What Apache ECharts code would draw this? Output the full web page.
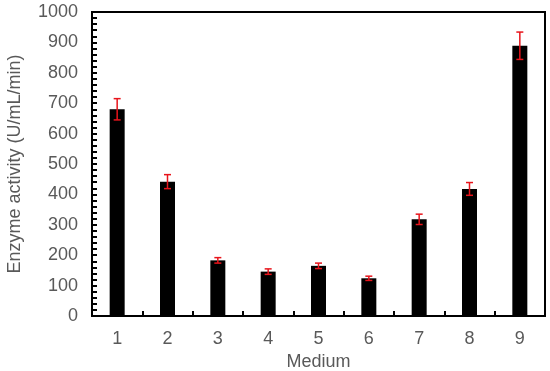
<!DOCTYPE html>
<html>
<head>
<meta charset="utf-8">
<script src="https://cdn.jsdelivr.net/npm/echarts@6/dist/echarts.min.js"></script>
<style>
  html, body { margin: 0; padding: 0; background: #fff; }
  #main { width: 550px; height: 371px; }
</style>
</head>
<body>
<div id="main"></div>
<script>
  // medium numbers and measured activity (U/mL/min)
  const media = ["1", "2", "3", "4", "5", "6", "7", "8", "9"];
  const activity = [680, 442, 183, 146, 165, 124, 318, 418, 889];
  const errors = [35, 23, 9, 9, 9, 7, 17, 21, 45];

  const font = "Liberation Sans, Arial, sans-serif";
  const grey = "#595959";

  let chart = echarts.init(document.getElementById("main"));

  let errData = media.map(function (m, i) {
    return [i, activity[i] - errors[i], activity[i] + errors[i]];
  });

  // draws the red error bars with caps
  function renderError(params, api) {
    let x = api.value(0);
    let lo = api.coord([x, api.value(1)]);
    let hi = api.coord([x, api.value(2)]);
    let cap = 3.5;
    let style = { stroke: "#e8141b", lineWidth: 1.5 };
    return {
      type: "group",
      children: [
        { type: "line", shape: { x1: lo[0], y1: lo[1], x2: hi[0], y2: hi[1] }, style: style },
        { type: "line", shape: { x1: hi[0] - cap, y1: hi[1], x2: hi[0] + cap, y2: hi[1] }, style: style },
        { type: "line", shape: { x1: lo[0] - cap, y1: lo[1], x2: lo[0] + cap, y2: lo[1] }, style: style },
      ],
    };
  }

  chart.setOption({
    animation: false,
    grid: {
      left: 92,
      right: 5,
      top: 12,
      bottom: 55,
      outerBoundsMode: "none",
      containLabel: false,
      show: true,
      borderColor: "#000",
      borderWidth: 2,
    },
    xAxis: {
      type: "category",
      data: media,
      name: "Medium",
      nameLocation: "middle",
      nameGap: 36,
      nameTextStyle: { color: grey, fontSize: 18, fontFamily: font },
      axisLine: { lineStyle: { color: "#000", width: 2 } },
      axisTick: { show: true, inside: true, length: 5, interval: 0, lineStyle: { color: "#000", width: 2 } },
      axisLabel: { color: grey, fontSize: 18, fontFamily: font, margin: 14 },
    },
    yAxis: {
      type: "value",
      min: 0,
      max: 1000,
      interval: 100,
      name: "Enzyme activity (U/mL/min)",
      nameLocation: "middle",
      nameGap: 68,
      nameTextStyle: { color: grey, fontSize: 18, fontFamily: font },
      axisLine: { show: true, lineStyle: { color: "#000", width: 2 } },
      axisTick: { show: true, inside: true, length: 5, lineStyle: { color: "#000", width: 2 } },
      minorTick: { show: true, splitNumber: 5, length: 5, lineStyle: { color: "#000", width: 2 } },
      splitLine: { show: false },
      axisLabel: {
        color: grey,
        fontSize: 18,
        fontFamily: font,
        margin: 14,
        formatter: function (v) { return String(v); },
      },
    },
    series: [
      {
        type: "bar",
        data: activity,
        barWidth: 15,
        itemStyle: { color: "#000" },
        silent: true,
      },
      {
        type: "custom",
        data: errData,
        renderItem: renderError,
        z: 5,
        silent: true,
      },
    ],
  });
</script>
</body>
</html>
